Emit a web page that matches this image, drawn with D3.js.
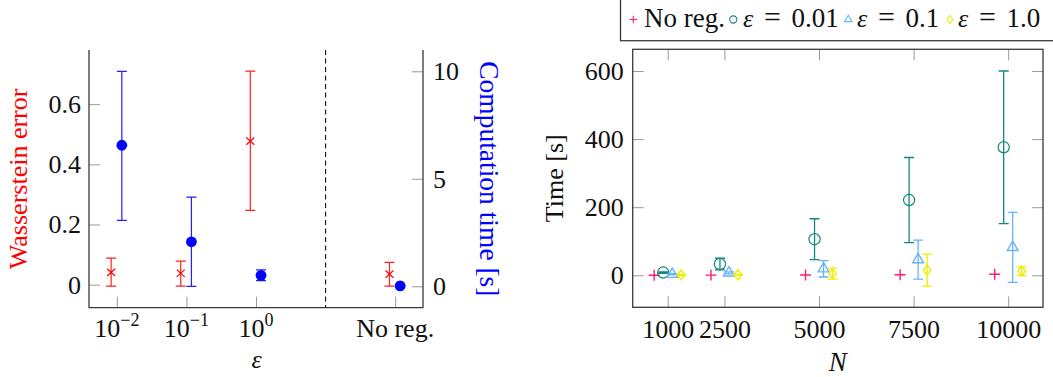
<!DOCTYPE html>
<html>
<head>
<meta charset="utf-8">
<script src="https://cdn.jsdelivr.net/npm/d3@7"></script>
<style>
  body { margin: 0; background: #fff; }
  svg text { font-family: "Liberation Serif", "DejaVu Serif", serif; fill: #111; }
</style>
</head>
<body>
<svg id="chart" width="1053" height="377" font-family="Liberation Serif, DejaVu Serif, serif"></svg>
<script>
// ---- left panel: error / time vs epsilon ----
const epsLabels = [['10', '−2'], ['10', '−1'], ['10', '0'], ['No reg.', '']]
const epsPos = [0, 1, 2, 4] // slot 3 is the dashed separator
const wassMean = [0.041, 0.038, 0.477, 0.035]
const wassLo = [-0.005, -0.005, 0.247, -0.005]
const wassHi = [0.088, 0.078, 0.710, 0.074]
const timeMean = [6.56, 2.07, 0.51, 0.02]
const timeLo = [3.07, 0.0, 0.26, 0.0]
const timeHi = [10.0, 4.15, 0.76, 0.04]
const wassTicks = [0, 0.2, 0.4, 0.6]
const timeTicks = [0, 5, 10]

// ---- right panel: time vs N ----
const Ns = [1000, 2500, 5000, 7500, 10000]
const seriesNames = ['No reg.', '0.01', '0.1', '1.0']
const noRegMean = [0.3, 0.6, 1.0, 1.5, 3.0]
const noRegErr = [0.1, 0.2, 0.3, 0.5, 1.0]
const eps001Mean = [8, 33, 106, 221, 376]
const eps001Err = [2, 17, 60, 125, 224]
const eps01Mean = [3, 7, 19, 46, 82]
const eps01Err = [2, 3, 24, 57, 103]
const eps1Mean = [1, 1.5, 5, 15, 12]
const eps1Err = [1, 1, 16, 47, 13]
const timeNTicks = [0, 200, 400, 600]

const colors = ['#ff1a75', '#15877a', '#66b3ff', '#eeee00']
const tickColor = '#9a9a9a'
const axisColor = '#3a3a3a'

const svg = d3.select('#chart')

// strip d3's default axis font so the serif face is used everywhere
function styleTicks (g) {
  g.attr('font-family', null).attr('font-size', null)
  g.select('.domain').remove()
  g.selectAll('line').attr('stroke', tickColor)
  g.selectAll('text').attr('font-size', 26).attr('fill', '#111')
}

// ================= left panel =================
const L = { left: 89, right: 423, top: 50, bottom: 307.7 }
const xL = d3.scaleLinear().domain([-0.4, 4.4]).range([L.left, L.right])
const yW = d3.scaleLinear().domain([-0.0765, 0.78]).range([L.bottom, L.top])
const yT = d3.scaleLinear().domain([-0.995, 10.99]).range([L.bottom, L.top])

const gL = svg.append('g')

gL.append('g')
  .attr('transform', `translate(${L.left},0)`)
  .call(d3.axisLeft(yW).tickValues(wassTicks).tickSize(-11).tickPadding(8)
    .tickFormat(d => d === 0 ? '0' : d3.format('.1f')(d)))
  .call(styleTicks)

gL.append('g')
  .attr('transform', `translate(${L.right},0)`)
  .call(d3.axisRight(yT).tickValues(timeTicks).tickSize(-11).tickPadding(10))
  .call(styleTicks)

gL.append('g')
  .attr('transform', `translate(0,${L.bottom})`)
  .call(d3.axisBottom(xL).tickValues(epsPos).tickSize(-11).tickFormat(''))
  .call(styleTicks)

// x tick labels with superscripts
const xlab = gL.selectAll('text.eps')
  .data(epsPos)
  .join('text')
  .attr('class', 'eps')
  .attr('x', d => xL(d))
  .attr('y', 336.5)
  .attr('text-anchor', 'middle')
  .attr('font-size', 26)
xlab.append('tspan').text((d, i) => epsLabels[i][0])
xlab.append('tspan')
  .attr('dy', -11)
  .attr('font-size', 18)
  .text((d, i) => epsLabels[i][1])

// axis lines (left, right, bottom)
gL.append('path')
  .attr('d', `M${L.left},${L.top}V${L.bottom}H${L.right}V${L.top}`)
  .attr('fill', 'none')
  .attr('stroke', axisColor)
  .attr('stroke-width', 1.3)

// dashed separator
gL.append('line')
  .attr('x1', xL(3)).attr('x2', xL(3))
  .attr('y1', L.top).attr('y2', L.bottom)
  .attr('stroke', '#111')
  .attr('stroke-width', 1.1)
  .attr('stroke-dasharray', '5,3.5')

// error bars helper
function errBars (g, xs, lo, hi, color, width) {
  const bars = g.append('g').attr('stroke', color).attr('stroke-width', width).attr('fill', 'none')
  bars.selectAll('path')
    .data(xs)
    .join('path')
    .attr('d', (x, i) => {
      const a = lo[i]; const b = hi[i]
      return `M${x},${a}V${b}M${x - 5},${a}H${x + 5}M${x - 5},${b}H${x + 5}`
    })
}

const redX = epsPos.map(p => xL(p) - 5.7)
const blueX = epsPos.map(p => xL(p) + 5)

errBars(gL, redX, wassLo.map(yW), wassHi.map(yW), '#ff2020', 1.2)
errBars(gL, blueX, timeLo.map(yT), timeHi.map(yT), '#1f1fff', 1.2)

gL.append('g')
  .selectAll('path')
  .data(wassMean)
  .join('path')
  .attr('transform', (d, i) => `translate(${redX[i]},${yW(d)})`)
  .attr('d', 'M-4,-3.6L4,3.6M-4,3.6L4,-3.6')
  .attr('stroke', '#ff0000')
  .attr('stroke-width', 1.2)

gL.append('g')
  .selectAll('circle')
  .data(timeMean)
  .join('circle')
  .attr('cx', (d, i) => blueX[i])
  .attr('cy', d => yT(d))
  .attr('r', 5.4)
  .attr('fill', '#0000ff')

// axis titles
svg.append('text')
  .attr('transform', `translate(18,${(L.top + L.bottom) / 2}) rotate(-90)`)
  .attr('text-anchor', 'middle')
  .attr('dy', '0.35em')
  .attr('font-size', 26)
  .style('fill', '#ff0000')
  .text('Wasserstein error')

svg.append('text')
  .attr('transform', `translate(490,${(L.top + L.bottom) / 2}) rotate(90)`)
  .attr('text-anchor', 'middle')
  .attr('dy', '0.35em')
  .attr('font-size', 27.5)
  .style('fill', '#0000ff')
  .text('Computation time [s]')

svg.append('text')
  .attr('x', (L.left + L.right) / 2 + 0.5)
  .attr('y', 368)
  .attr('text-anchor', 'middle')
  .attr('font-size', 26)
  .attr('font-style', 'italic')
  .text('ε')

// ================= right panel =================
const R = { left: 632.7, right: 1043, top: 49.3, bottom: 307.3 }
const xR = d3.scaleLinear().domain([75, 10920]).range([R.left, R.right])
const yR = d3.scaleLinear().domain([-94, 663.7]).range([R.bottom, R.top])
const dodge = d3.scalePoint().domain(seriesNames).range([-13.5, 13.5])

const gR = svg.append('g')

gR.append('g').attr('transform', `translate(${R.left},0)`)
  .call(d3.axisLeft(yR).tickValues(timeNTicks).tickSize(-11).tickPadding(9))
  .call(styleTicks)
gR.append('g').attr('transform', `translate(${R.right},0)`)
  .call(d3.axisRight(yR).tickValues(timeNTicks).tickSize(-11).tickFormat(''))
  .call(styleTicks)
gR.append('g').attr('transform', `translate(0,${R.bottom})`)
  .call(d3.axisBottom(xR).tickValues(Ns).tickSize(-11).tickPadding(12).tickFormat(d3.format('d')))
  .call(styleTicks)
gR.append('g').attr('transform', `translate(0,${R.top})`)
  .call(d3.axisTop(xR).tickValues(Ns).tickSize(-11).tickFormat(''))
  .call(styleTicks)

gR.append('rect')
  .attr('x', R.left).attr('y', R.top)
  .attr('width', R.right - R.left).attr('height', R.bottom - R.top)
  .attr('fill', 'none')
  .attr('stroke', axisColor)
  .attr('stroke-width', 1.3)

const markerPaths = [
  'M-5.5,0H5.5M0,-5.5V5.5',
  null,
  'M0,-6.2L5.4,3.1L-5.4,3.1Z',
  'M0,-5L3.8,0L0,5L-3.8,0Z'
]
const legendPaths = [
  'M-3.8,0H3.8M0,-3.8V3.8',
  null,
  'M0,-4.2L3.7,2.1L-3.7,2.1Z',
  'M0,-4.2L2.9,0L0,4.2L-2.9,0Z'
]

const allMean = [noRegMean, eps001Mean, eps01Mean, eps1Mean]
const allErr = [noRegErr, eps001Err, eps01Err, eps1Err]

seriesNames.forEach((name, s) => {
  const xs = Ns.map(n => xR(n) + dodge(name))
  const mean = allMean[s]
  const err = allErr[s]
  const g = gR.append('g')
  if (s > 0) {
    errBars(g, xs, mean.map((m, i) => yR(m - err[i])), mean.map((m, i) => yR(m + err[i])), colors[s], 1.3)
  }
  if (s === 1) {
    g.selectAll('circle')
      .data(mean)
      .join('circle')
      .attr('cx', (d, i) => xs[i])
      .attr('cy', d => yR(d))
      .attr('r', 5.6)
      .attr('fill', 'none')
      .attr('stroke', colors[s])
      .attr('stroke-width', 1.2)
  } else {
    g.selectAll('path.mk')
      .data(mean)
      .join('path')
      .attr('class', 'mk')
      .attr('transform', (d, i) => `translate(${xs[i]},${yR(d)})`)
      .attr('d', markerPaths[s])
      .attr('fill', 'none')
      .attr('stroke', colors[s])
      .attr('stroke-width', 1.4)
  }
})

svg.append('text')
  .attr('transform', `translate(554,${(R.top + R.bottom) / 2}) rotate(-90)`)
  .attr('text-anchor', 'middle')
  .attr('dy', '0.35em')
  .attr('font-size', 26)
  .text('Time [s]')

svg.append('text')
  .attr('x', (R.left + R.right) / 2)
  .attr('y', 371)
  .attr('text-anchor', 'middle')
  .attr('font-size', 27)
  .attr('font-style', 'italic')
  .text('N')

// ---- legend ----
const leg = svg.append('g')
leg.append('rect')
  .attr('x', 620.5).attr('y', -2)
  .attr('width', 450).attr('height', 42.7)
  .attr('fill', '#fff')
  .attr('stroke', axisColor)
  .attr('stroke-width', 1.3)

const legMarkX = [633.3, 733.3, 848.3, 950]
const legTextX = [644, 743, 857, 958]
seriesNames.forEach((name, s) => {
  const mx = legMarkX[s]
  if (s === 1) {
    leg.append('circle').attr('cx', mx).attr('cy', 19.5).attr('r', 3.6)
      .attr('fill', 'none').attr('stroke', colors[s]).attr('stroke-width', 1.1)
  } else {
    leg.append('path').attr('transform', `translate(${mx},19.5)`)
      .attr('d', legendPaths[s])
      .attr('fill', 'none').attr('stroke', colors[s]).attr('stroke-width', 1.1)
  }
  const tx = legTextX[s]
  if (s === 0) {
    leg.append('text').attr('x', tx).attr('y', 27).attr('font-size', 27).text(name)
  } else {
    leg.append('text').attr('x', tx).attr('y', 27).attr('font-size', 26)
      .attr('font-style', 'italic').text('ε')
    leg.append('text').attr('x', tx + 21).attr('y', 27).attr('font-size', 30).text('=')
    leg.append('text').attr('x', tx + 48.5).attr('y', 27).attr('font-size', 27).text(name)
  }
})
</script>
</body>
</html>
